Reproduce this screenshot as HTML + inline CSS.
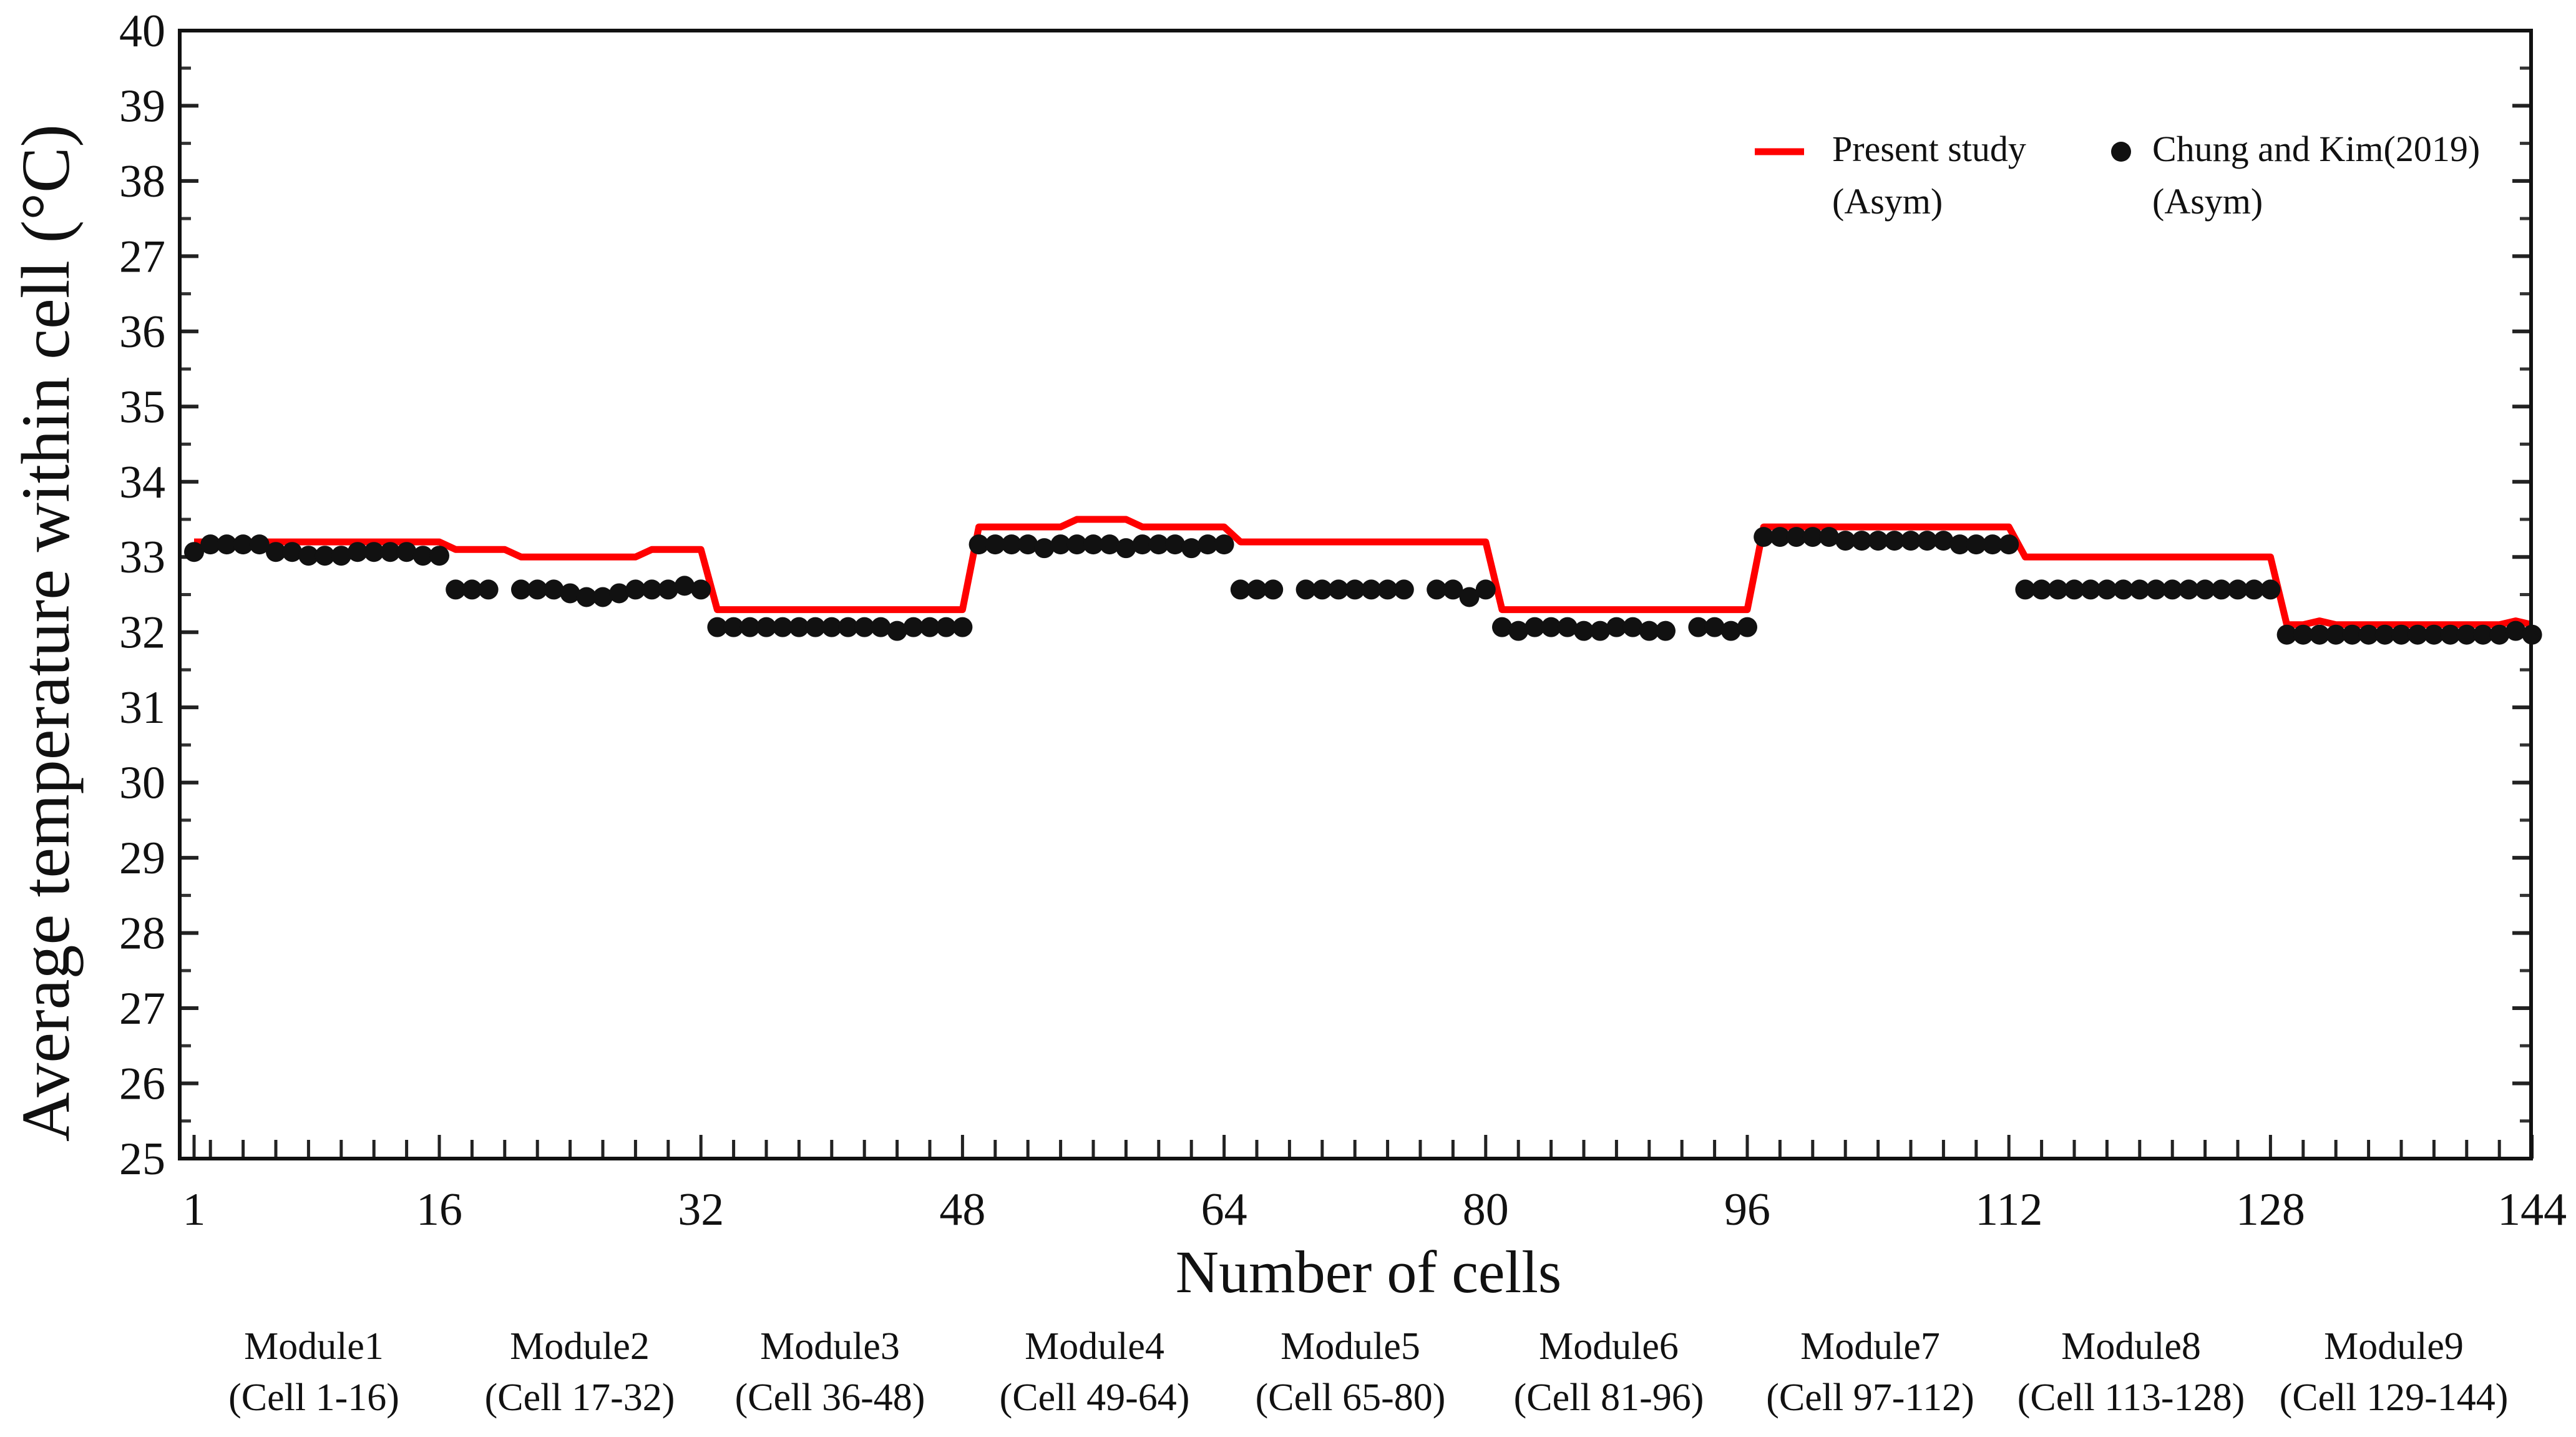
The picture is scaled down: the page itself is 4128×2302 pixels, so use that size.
<!DOCTYPE html>
<html><head><meta charset="utf-8">
<style>
html,body{margin:0;padding:0;background:#fff;}
svg, svg text{font-family:"Liberation Serif","DejaVu Serif",serif;}
</style></head>
<body>
<svg id="chart" width="4128" height="2297" viewBox="0 0 4128 2297" xmlns="http://www.w3.org/2000/svg" font-family="Liberation Serif, DejaVu Serif, serif">
<rect x="0" y="0" width="4128" height="2297" fill="#fff"/>
<g id="grid"></g>
<g id="series"></g>
<rect x="288" y="49" width="3768" height="1807" fill="none" stroke="#111" stroke-width="6"/>
<text x="0" y="0" transform="translate(110,1014) rotate(-90)" text-anchor="middle" font-size="110" fill="#111">Average temperature within cell (°C)</text>
<text x="2193" y="2070" text-anchor="middle" font-size="96" fill="#111">Number of cells</text>
<g>
<line x1="2812" y1="243" x2="2891" y2="243" stroke="#f00" stroke-width="11"/>
<text x="2936" y="258" font-size="58" fill="#111">Present study</text>
<text x="2936" y="342" font-size="58" fill="#111">(Asym)</text>
<circle cx="3399" cy="243" r="16" fill="#111"/>
<text x="3449" y="258" font-size="58" fill="#111">Chung and Kim(2019)</text>
<text x="3449" y="342" font-size="58" fill="#111">(Asym)</text>
</g>
<g id="modules"></g>
</svg>
<script>
const yTickLabels = ["25","26","27","28","29","30","31","32","33","34","35","36","27","38","39","40"];
const xTickLabels = [1,16,32,48,64,80,96,112,128,144];
const moduleNames = ["Module1","Module2","Module3","Module4","Module5","Module6","Module7","Module8","Module9"];
const moduleRanges = ["(Cell 1-16)","(Cell 17-32)","(Cell 36-48)","(Cell 49-64)","(Cell 65-80)","(Cell 81-96)","(Cell 97-112)","(Cell 113-128)","(Cell 129-144)"];
const presentStudy = [
33.2,33.2,33.2,33.2,33.2,33.2,33.2,33.2,33.2,33.2,33.2,33.2,33.2,33.2,33.2,33.2,
33.1,33.1,33.1,33.1,33.0,33.0,33.0,33.0,33.0,33.0,33.0,33.0,33.1,33.1,33.1,33.1,
32.3,32.3,32.3,32.3,32.3,32.3,32.3,32.3,32.3,32.3,32.3,32.3,32.3,32.3,32.3,32.3,
33.4,33.4,33.4,33.4,33.4,33.4,33.5,33.5,33.5,33.5,33.4,33.4,33.4,33.4,33.4,33.4,
33.2,33.2,33.2,33.2,33.2,33.2,33.2,33.2,33.2,33.2,33.2,33.2,33.2,33.2,33.2,33.2,
32.3,32.3,32.3,32.3,32.3,32.3,32.3,32.3,32.3,32.3,32.3,32.3,32.3,32.3,32.3,32.3,
33.4,33.4,33.4,33.4,33.4,33.4,33.4,33.4,33.4,33.4,33.4,33.4,33.4,33.4,33.4,33.4,
33.0,33.0,33.0,33.0,33.0,33.0,33.0,33.0,33.0,33.0,33.0,33.0,33.0,33.0,33.0,33.0,
32.1,32.1,32.15,32.1,32.1,32.1,32.1,32.1,32.1,32.1,32.1,32.1,32.1,32.1,32.15,32.1];
const chungKim = [
33.1,33.2,33.2,33.2,33.2,33.1,33.1,33.05,33.05,33.05,33.1,33.1,33.1,33.1,33.05,33.05,
32.6,32.6,32.6,null,32.6,32.6,32.6,32.55,32.5,32.5,32.55,32.6,32.6,32.6,32.65,32.6,
32.1,32.1,32.1,32.1,32.1,32.1,32.1,32.1,32.1,32.1,32.1,32.05,32.1,32.1,32.1,32.1,
33.2,33.2,33.2,33.2,33.15,33.2,33.2,33.2,33.2,33.15,33.2,33.2,33.2,33.15,33.2,33.2,
32.6,32.6,32.6,null,32.6,32.6,32.6,32.6,32.6,32.6,32.6,null,32.6,32.6,32.5,32.6,
32.1,32.05,32.1,32.1,32.1,32.05,32.05,32.1,32.1,32.05,32.05,null,32.1,32.1,32.05,32.1,
33.3,33.3,33.3,33.3,33.3,33.25,33.25,33.25,33.25,33.25,33.25,33.25,33.2,33.2,33.2,33.2,
32.6,32.6,32.6,32.6,32.6,32.6,32.6,32.6,32.6,32.6,32.6,32.6,32.6,32.6,32.6,32.6,
32.0,32.0,32.0,32.0,32.0,32.0,32.0,32.0,32.0,32.0,32.0,32.0,32.0,32.0,32.05,32.0];

const NS="http://www.w3.org/2000/svg";
const X0=311, DX=26.2, Y0=1856, DY=120.47;
function xs(c){return X0+(c-1)*DX;}
function ys(v){return Y0-(v-25)*DY;}
function mk(tag,attrs,parent){const e=document.createElementNS(NS,tag);for(const k in attrs)e.setAttribute(k,attrs[k]);parent.appendChild(e);return e;}
const grid=document.getElementById('grid');
const series=document.getElementById('series');
const mods=document.getElementById('modules');
const FF='Liberation Serif, DejaVu Serif, serif';

for(let i=0;i<yTickLabels.length;i++){
  const y=ys(25+i);
  const t1=mk('line',{x1:288,y1:y,x2:318,y2:y,stroke:'#222','stroke-width':6},grid);
  
  
  const t2=mk('line',{x1:4026,y1:y,x2:4056,y2:y,stroke:'#222','stroke-width':6},grid);
  
  
  if(i<yTickLabels.length-1){
    const ym=ys(25.5+i);
    const m1=mk('line',{x1:288,y1:ym,x2:306,y2:ym,stroke:'#333','stroke-width':5},grid);
    
    
    const m2=mk('line',{x1:4038,y1:ym,x2:4056,y2:ym,stroke:'#333','stroke-width':5},grid);
    
    
  }
  const lb=mk('text',{x:265,y:y+25,'text-anchor':'end','font-size':74,fill:'#111','font-family':FF},grid);
  lb.textContent=yTickLabels[i];
  
  
}
for(let c=1;c<=144;c++){
  if(c!==1 && c%2!==0) continue;
  const major=xTickLabels.indexOf(c)>=0;
  const x=xs(c);
  const t=mk('line',{x1:x,y1:1856,x2:x,y2:major?1818:1826,stroke:'#222','stroke-width':5},grid);
  
  
}
for(const c of xTickLabels){
  const lb=mk('text',{x:xs(c),y:1962,'text-anchor':'middle','font-size':74,fill:'#111','font-family':FF},grid);
  lb.textContent=String(c);
  
  
}
let d='';
presentStudy.forEach((v,i)=>{d+=(i?'L':'M')+xs(i+1).toFixed(1)+','+ys(v).toFixed(1);});
const path=mk('path',{d:d,fill:'none',stroke:'#f00','stroke-width':11,'stroke-linejoin':'round'},series);


chungKim.forEach((v,i)=>{
  if(v===null) return;
  const c=mk('circle',{cx:xs(i+1),cy:ys(v)+4,r:16,fill:'#111'},series);
  
  
});
const mcx=[503,929,1330,1754,2164,2578,2997,3415,3836];
moduleNames.forEach((n,i)=>{
  const a=mk('text',{x:mcx[i],y:2177,'text-anchor':'middle','font-size':62,fill:'#111','font-family':FF},mods);
  a.textContent=n;
  
  
  const b=mk('text',{x:mcx[i],y:2259,'text-anchor':'middle','font-size':62,fill:'#111','font-family':FF},mods);
  b.textContent=moduleRanges[i];
  
  
});
</script>
</body></html>
